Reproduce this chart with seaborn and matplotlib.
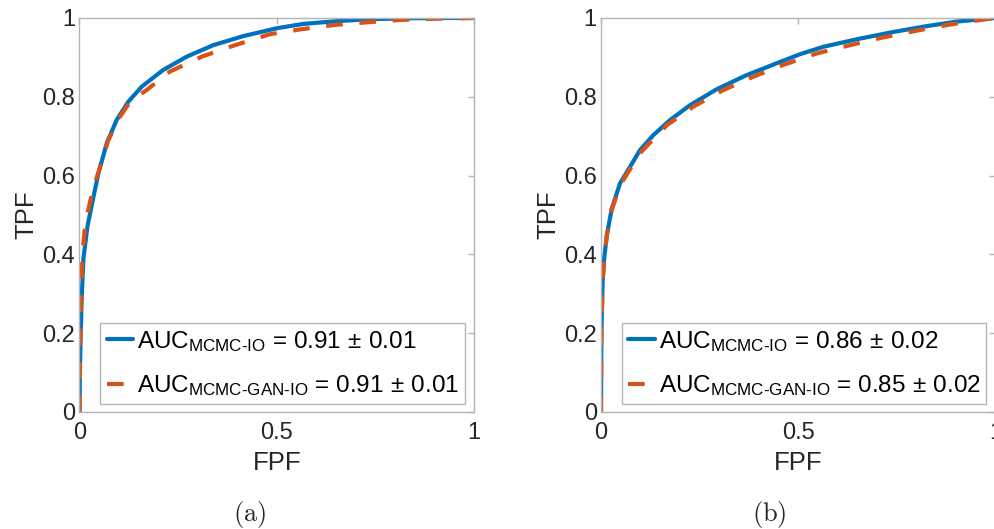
import numpy as np
import pandas as pd
import seaborn as sns
import matplotlib.pyplot as plt

# ROC curves
fpf_a_io = [0, 0.001, 0.003, 0.006, 0.010, 0.020, 0.031, 0.048, 0.069, 0.094, 0.124, 0.158,
            0.212, 0.272, 0.339, 0.415, 0.500, 0.567, 0.652, 0.736, 0.821, 0.900, 1.0]
tpf_a_io = [0, 0.10, 0.20, 0.30, 0.39, 0.47, 0.525, 0.606, 0.682, 0.741, 0.788, 0.826,
            0.868, 0.902, 0.931, 0.954, 0.974, 0.985, 0.992, 0.997, 0.999, 1.0, 1.0]
fpf_a_gan = [0, 0.001, 0.003, 0.007, 0.015, 0.027, 0.039, 0.073, 0.103, 0.130, 0.170,
             0.229, 0.310, 0.394, 0.483, 0.559, 0.643, 0.728, 0.812, 0.897, 1.0]
tpf_a_gan = [0, 0.15, 0.25, 0.40, 0.48, 0.535, 0.580, 0.690, 0.750, 0.790, 0.817,
             0.864, 0.902, 0.931, 0.959, 0.971, 0.982, 0.989, 0.995, 0.998, 1.0]

fpf_b_io = [0, 0.0005, 0.001, 0.004, 0.008, 0.015, 0.027, 0.048, 0.074, 0.099, 0.133, 0.175,
            0.226, 0.293, 0.369, 0.445, 0.504, 0.564, 0.648, 0.733, 0.817, 0.902, 1.0]
tpf_b_io = [0, 0.10, 0.20, 0.33, 0.39, 0.45, 0.515, 0.580, 0.623, 0.665, 0.703, 0.741,
            0.779, 0.819, 0.855, 0.885, 0.908, 0.927, 0.946, 0.963, 0.978, 0.991, 1.0]
fpf_b_gan = [0, 0.0005, 0.001, 0.004, 0.008, 0.015, 0.027, 0.048, 0.099, 0.167, 0.234,
             0.310, 0.386, 0.462, 0.547, 0.631, 0.712, 0.796, 0.876, 0.961, 1.0]
tpf_b_gan = [0, 0.10, 0.20, 0.33, 0.39, 0.45, 0.512, 0.575, 0.657, 0.728, 0.775,
             0.817, 0.851, 0.881, 0.910, 0.931, 0.950, 0.967, 0.982, 0.995, 1.0]

labels_a = [r'AUC$_{\mathrm{MCMC‐IO}}$ = 0.91$\,\pm\,$0.01',
            r'AUC$_{\mathrm{MCMC‐GAN‐IO}}$ = 0.91$\,\pm\,$0.01']
labels_b = [r'AUC$_{\mathrm{MCMC‐IO}}$ = 0.86$\,\pm\,$0.02',
            r'AUC$_{\mathrm{MCMC‐GAN‐IO}}$ = 0.85$\,\pm\,$0.02']
captions = ['(a)', '(b)']
yticks = [0, 0.2, 0.4, 0.6, 0.8, 1]
ytick_labels = ['0', '0.2', '0.4', '0.6', '0.8', '1']
xticks = [0, 0.5, 1]
xtick_labels = ['0', '0.5', '1']

sns.set_style('white')
plt.rcParams['font.family'] = ['Liberation Sans', 'DejaVu Sans']
plt.rcParams['mathtext.fontset'] = 'custom'
plt.rcParams['mathtext.rm'] = 'Liberation Sans'
plt.rcParams['mathtext.it'] = 'Liberation Sans:italic'

blue = '#0072BD'
orange = '#D95319'
grey = '#b4b4b4'
txt = '#262626'

fig = plt.figure(figsize=(9.95, 5.29), dpi=100)
ax1 = fig.add_axes([79.5 / 995, 117 / 529, 394.5 / 995, 394 / 529])
ax2 = fig.add_axes([601 / 995, 117 / 529, 394.5 / 995, 394 / 529])

panels = [
    (ax1, fpf_a_io, tpf_a_io, fpf_a_gan, tpf_a_gan, labels_a),
    (ax2, fpf_b_io, tpf_b_io, fpf_b_gan, tpf_b_gan, labels_b),
]

for ax, fx, fy, gx, gy, labs in panels:
    d1 = pd.DataFrame({'FPF': fx, 'TPF': fy})
    d2 = pd.DataFrame({'FPF': gx, 'TPF': gy})
    sns.lineplot(data=d1, x='FPF', y='TPF', ax=ax, color=blue, lw=3.0,
                 estimator=None, label=labs[0])
    sns.lineplot(data=d2, x='FPF', y='TPF', ax=ax, color=orange, lw=3.0,
                 estimator=None, label=labs[1])
    ax.lines[-1].set_dashes((4, 4))
    ax.set_xlim(0, 1)
    ax.set_ylim(0, 1)
    ax.set_xticks(xticks)
    ax.set_xticklabels(xtick_labels)
    ax.set_yticks(yticks)
    ax.set_yticklabels(ytick_labels)
    ax.tick_params(direction='in', length=4, width=1, color=grey, labelcolor=txt,
                   labelsize=17, top=True, right=True)
    ax.tick_params(axis='y', pad=3)
    ax.tick_params(axis='x', pad=7)
    for s in ax.spines.values():
        s.set_visible(True)
        s.set_color(grey)
        s.set_linewidth(1)
    ax.set_xlabel('FPF', fontsize=18.5, color=txt)
    ax.set_ylabel('TPF', fontsize=18.5, color=txt)
    ax.xaxis.set_label_coords(0.5, -0.1)
    ax.yaxis.set_label_coords(-0.104, 0.5)
    leg = ax.legend(loc='lower right', bbox_to_anchor=(0.977, 0.02), borderaxespad=0,
                    fontsize=17.5, handlelength=1.1, handletextpad=0.15, borderpad=0.25,
                    labelspacing=0.8, frameon=True, fancybox=False, framealpha=1)
    leg.get_frame().set_edgecolor(grey)
    leg.get_frame().set_linewidth(1)
    for t in leg.get_texts():
        t.set_color('black')

fig.text(250 / 995, 1 - 514 / 529, r'$\mathrm{(a)}$', math_fontfamily='cm', fontsize=19,
         ha='center', va='center')
fig.text(769 / 995, 1 - 514 / 529, r'$\mathrm{(b)}$', math_fontfamily='cm', fontsize=19,
         ha='center', va='center')

fig.savefig('out.png', dpi=100)
